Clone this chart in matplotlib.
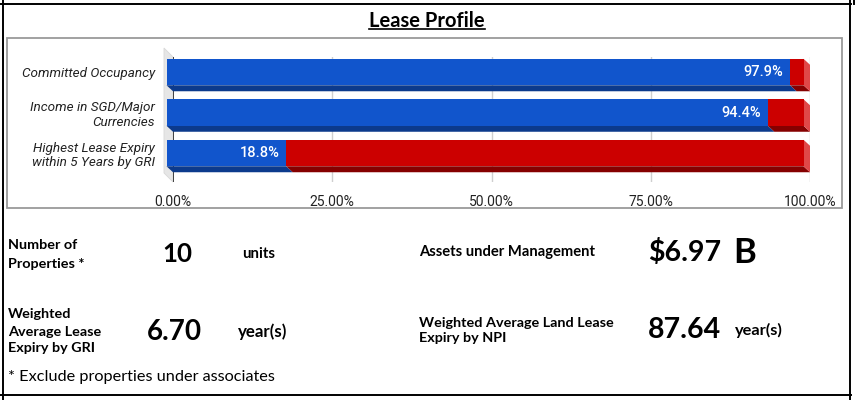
import matplotlib
matplotlib.use("Agg")
import matplotlib.pyplot as plt
from matplotlib.patches import Polygon, Rectangle
from matplotlib.lines import Line2D

# ---------------- data ----------------
title = "Lease Profile"
categories = ["Committed Occupancy",
              "Income in SGD/Major\nCurrencies",
              "Highest Lease Expiry\nwithin 5 Years by GRI"]
primary = [97.9, 94.4, 18.8]
remainder = [2.1, 5.6, 81.2]
primary_labels = ["97.9%", "94.4%", "18.8%"]
xticks = [0, 25, 50, 75, 100]
xtick_labels = ["0.00%", "25.00%", "50.00%", "75.00%", "100.00%"]

metric_labels = ["Number of\nProperties *",
                 "Weighted\nAverage Lease\nExpiry by GRI",
                 "Assets under Management",
                 "Weighted Average Land Lease\nExpiry by NPI"]
metric_values = ["10", "6.70", "$6.97", "87.64"]
metric_units = ["units", "year(s)", "B", "year(s)"]
footnote = "* Exclude properties under associates"

# ---------------- style ----------------
BLUE, BLUE_DARK = "#1155CC", "#0C3A8C"
RED, RED_DARK, RED_SIDE = "#CC0000", "#850000", "#E04848"
TXT = "#222222"
CHART_FONT = ["Roboto", "DejaVu Sans"]
CELL_FONT = ["Lato", "DejaVu Sans"]

W, H = 856, 400
fig = plt.figure(figsize=(W / 100, H / 100), dpi=100)
fig.patch.set_facecolor("white")


def fx(x):
    return x / W


def fy(y):
    return 1 - y / H


# chart frame (gray)
fig.add_artist(Rectangle((fx(7), fy(208)), (842 - 7) / W, (208 - 38) / H,
                         transform=fig.transFigure, fill=False,
                         ec="#9A9A9A", lw=1.3))

# axes (back plane of the 3D chart)
ax_l, ax_r, ax_t, ax_b = 173, 810, 57, 182
ax = fig.add_axes([fx(ax_l), fy(ax_b), (ax_r - ax_l) / W, (ax_b - ax_t) / H])
ylim = (2.568, -0.519)
ax.set_xlim(0, 100)
ax.set_ylim(*ylim)
for s in ax.spines.values():
    s.set_visible(False)

px_per_x = (ax_r - ax_l) / 100.0
px_per_y = (ax_b - ax_t) / (ylim[0] - ylim[1])
dx = -6.5 / px_per_x          # depth offset (front face left)
dy = -6.0 / px_per_y          # depth offset (front face up)
bar_h = 26.5 / px_per_y

# left wall
wdx, wdy = -9 / (ax_r - ax_l), 9 / (ax_b - ax_t)
ax.add_patch(Polygon([(0, 0), (0, 1), (wdx, 1 + wdy), (wdx, wdy)],
                     closed=True, transform=ax.transAxes, fc="#E6E6E6",
                     ec="#D8D8D8", lw=0.6, clip_on=False, zorder=0.5))

# grid
for t in xticks[1:]:
    ax.axvline(t, color="#CFCFCF", lw=1.0, zorder=1)
ax.axvline(0, color="#333333", lw=1.3, zorder=1.5)

for i, (p, r) in enumerate(zip(primary, remainder)):
    segs = [(0, p, BLUE, BLUE_DARK), (p, p + r, RED, RED_DARK)]
    yb = i + bar_h / 2
    yt = i - bar_h / 2
    for k, (x0, x1, c, cd) in enumerate(segs):
        ax.add_patch(Polygon([(x0 + dx, yb + dy), (x1 + dx, yb + dy), (x1, yb), (x0, yb)],
                             closed=True, fc=cd, ec="none", clip_on=False, zorder=2))
        ax.barh(i + dy, x1 - x0, left=x0 + dx, height=bar_h, color=c,
                clip_on=False, zorder=3, linewidth=0)
        if k == len(segs) - 1:
            ax.add_patch(Polygon([(x1 + dx, yt + dy), (x1, yt), (x1, yb), (x1 + dx, yb + dy)],
                                 closed=True, fc=RED_SIDE, ec="none",
                                 clip_on=False, zorder=2))
    ax.annotate(primary_labels[i], xy=(p + dx, i + dy), xytext=(-5, 0),
                textcoords="offset points", ha="right", va="center",
                color="white", fontsize=10.5, family=CHART_FONT,
                fontweight="medium", zorder=5)

ax.set_xticks(xticks, xtick_labels)
ax.set_yticks([i + dy for i in range(len(categories))], categories)
ax.tick_params(axis="x", length=0, pad=9, labelsize=10, labelcolor=TXT)
ax.tick_params(axis="y", length=0, pad=13, labelsize=9.7, labelcolor=TXT)
for lab in ax.get_xticklabels():
    lab.set_family(CHART_FONT)
for lab in ax.get_yticklabels():
    lab.set_family(CHART_FONT)
    lab.set_style("italic")
    lab.set_multialignment("right")
    lab.set_linespacing(1.15)

# title with underline
ttl = fig.text(fx(427), fy(21), title, ha="center", va="center",
               fontsize=14.5, fontweight="bold", family=CELL_FONT, color="black")

fit_specs = []


def cell_text(x, y, s, width, ha="left", bold=True, ls=1.2):
    t = fig.text(fx(x), fy(y), s, ha=ha, va="center", fontsize=10,
                 fontweight="bold" if bold else "normal", family=CELL_FONT,
                 color="black", linespacing=ls)
    fit_specs.append((t, width))
    return t


cell_text(8, 254.5, metric_labels[0], 77, ls=1.68)
cell_text(8, 331.5, metric_labels[1], 93, ls=1.5)
cell_text(419, 330.5, metric_labels[3], 194, ls=1.32)
cell_text(419, 252, metric_labels[2], 175)

cell_text(177, 254, metric_values[0], 30, ha="center")
cell_text(174.5, 332, metric_values[1], 55, ha="center")
cell_text(648, 253, metric_values[2], 73)
cell_text(648, 330, metric_values[3], 73)

cell_text(242, 254, metric_units[0], 33)
cell_text(238, 332, metric_units[1], 49)
cell_text(733, 253, metric_units[2], 23)
cell_text(735, 330, metric_units[3], 48)

cell_text(8, 377.5, footnote, 267, bold=False)

# scale each cell text so its widest line matches the reference width
fig.canvas.draw()
renderer = fig.canvas.get_renderer()
for _ in range(2):
    for t, width in fit_specs:
        actual = t.get_window_extent(renderer).width
        t.set_fontsize(t.get_fontsize() * width / actual)
    fig.canvas.draw()


def hline(y, x0, x1, lw=1.4):
    fig.add_artist(Line2D([fx(x0), fx(x1)], [fy(y), fy(y)],
                          transform=fig.transFigure, color="black", lw=lw))


def vline(x, y0, y1, lw=1.4):
    fig.add_artist(Line2D([fx(x), fx(x)], [fy(y0), fy(y1)],
                          transform=fig.transFigure, color="black", lw=lw))


hline(4, 0, 851)
hline(395, 0, 851)
vline(3, 0, 400)
vline(850, 0, 400)
vline(853.5, 0, 4)

fig.canvas.draw()
bb = ttl.get_window_extent()
hline(29, bb.x0, bb.x1, lw=1.2)

fig.savefig("out.png", dpi=100, facecolor="white")
